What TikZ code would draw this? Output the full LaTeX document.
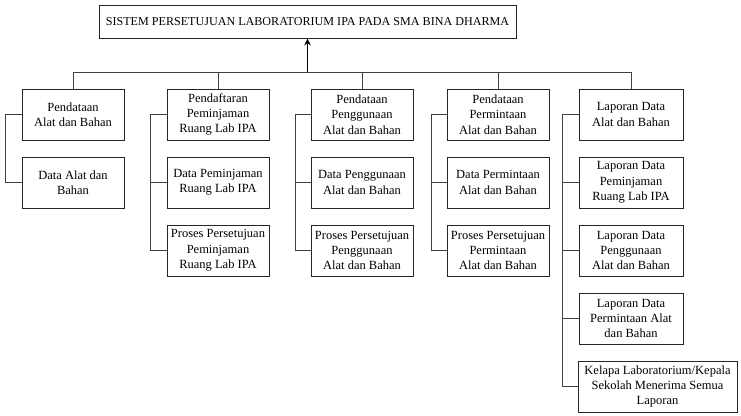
\documentclass[tikz,border=0pt]{standalone}
\usepackage{fontspec}
\setmainfont{Liberation Serif}
\usetikzlibrary{arrows.meta}
\begin{document}
\begin{tikzpicture}[x=1pt,y=1pt,
  box/.style={draw=black!85,line width=0.9pt,fill=white,align=center,inner sep=1pt,
    minimum width=102pt,minimum height=51pt,font=\fontsize{12.5}{15.4}\selectfont},
  wide/.style={box,minimum width=159pt},
  conn/.style={draw=black!75,line width=0.9pt}]
\useasboundingbox (0,0) rectangle (741,415);
% top
\node[draw=black!85,line width=0.9pt,minimum width=417pt,minimum height=33pt,inner sep=0pt,
  font=\fontsize{12.1}{14}\selectfont] (top) at (307.5,393.5) {SISTEM PERSETUJUAN LABORATORIUM IPA PADA SMA BINA DHARMA};
% column 1
\node[box] (a1) at (73,300.5) {Pendataan\\Alat dan Bahan};
\node[box] (a2) at (73,232.5) {Data Alat dan\\Bahan};
% column 2
\node[box] (b1) at (218,300.5) {Pendaftaran\\Peminjaman\\Ruang Lab IPA};
\node[box] (b2) at (218,232.5) {Data Peminjaman\\Ruang Lab IPA};
\node[box] (b3) at (218,164.5) {Proses Persetujuan\\Peminjaman\\Ruang Lab IPA};
% column 3
\node[box] (c1) at (362,300.5) {Pendataan\\Penggunaan\\Alat dan Bahan};
\node[box] (c2) at (362,232.5) {Data Penggunaan\\Alat dan Bahan};
\node[box] (c3) at (362,164.5) {Proses Persetujuan\\Penggunaan\\Alat dan Bahan};
% column 4
\node[box] (d1) at (498,300.5) {Pendataan\\Permintaan\\Alat dan Bahan};
\node[box] (d2) at (498,232.5) {Data Permintaan\\Alat dan Bahan};
\node[box] (d3) at (498,164.5) {Proses Persetujuan\\Permintaan\\Alat dan Bahan};
% column 5
\node[box,minimum width=104pt] (e1) at (631,300.5) {Laporan Data\\Alat dan Bahan};
\node[box,minimum width=104pt] (e2) at (631,232.5) {Laporan Data\\Peminjaman\\Ruang Lab IPA};
\node[box,minimum width=104pt] (e3) at (631,164.5) {Laporan Data\\Penggunaan\\Alat dan Bahan};
\node[box,minimum width=104pt] (e4) at (631,96.5) {Laporan Data\\Permintaan Alat\\dan Bahan};
\node[wide] (e5) at (657.5,28.5) {Kelapa Laboratorium/Kepala\\Sekolah Menerima Semua\\Laporan};
% bus
\coordinate (bus) at (307.5,343);
\foreach \n in {a1,b1,c1,d1,e1} \draw[conn] (\n.north) |- (bus);
\draw[line width=1.8pt,-{Stealth[length=7pt,width=6.5pt]}] (bus) -- (top.south);
% spines
\coordinate (sa) at (5,0);
\coordinate (sb) at (150,0);
\coordinate (sc) at (295,0);
\coordinate (sd) at (431,0);
\coordinate (se) at (562,0);
\draw[conn] (a1.west) -- (a1.west -| sa) -- (a2.west -| sa) -- (a2.west);
\draw[conn] (b1.west) -- (b1.west -| sb) -- (b3.west -| sb) -- (b3.west);
\draw[conn] (b2.west -| sb) -- (b2.west);
\draw[conn] (c1.west) -- (c1.west -| sc) -- (c3.west -| sc) -- (c3.west);
\draw[conn] (c2.west -| sc) -- (c2.west);
\draw[conn] (d1.west) -- (d1.west -| sd) -- (d3.west -| sd) -- (d3.west);
\draw[conn] (d2.west -| sd) -- (d2.west);
\draw[conn] (e1.west) -- (e1.west -| se) -- (e5.west -| se) -- (e5.west);
\foreach \n in {e2,e3,e4} \draw[conn] (\n.west -| se) -- (\n.west);
\end{tikzpicture}
\end{document}
